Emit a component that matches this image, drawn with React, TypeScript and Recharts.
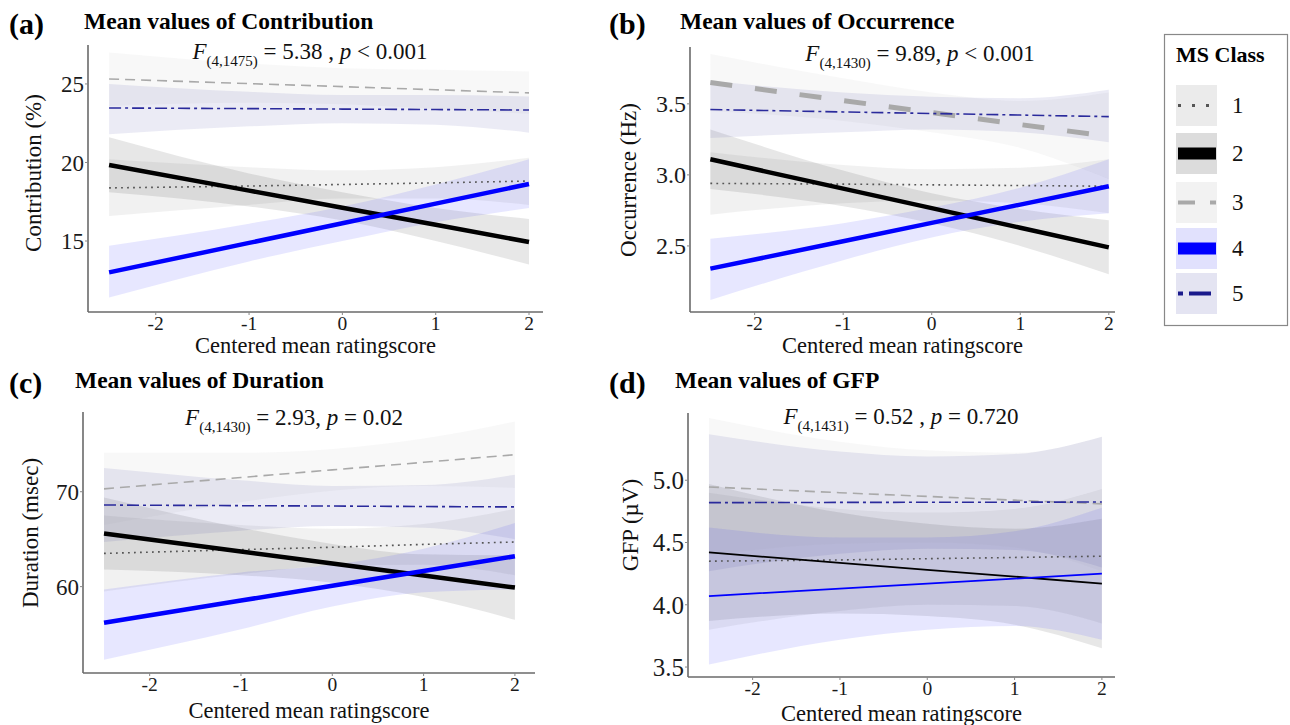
import React from 'react';
import { ComposedChart, Area, Line, XAxis, YAxis } from 'recharts';

// ---------------- data ----------------
const X_VALUES = [-2.5, -1, 0, 1, 2];
const X_TICKS = [-2, -1, 0, 1, 2];
const MS_CLASSES = ['1', '2', '3', '4', '5'];

// each entry: [lower CI, fitted mean, upper CI] at X_VALUES
// (a) Contribution (%)
const contribution1 = [[16.6, 18.38, 20.2], [17.3, 18.5, 19.7], [17.7, 18.6, 19.5], [17.7, 18.7, 19.7], [17.3, 18.82, 20.3]];
const contribution2 = [[18.1, 19.84, 21.6], [17.2, 18.21, 19.3], [16.3, 17.12, 18.1], [15.0, 16.03, 17.1], [13.5, 14.94, 16.4]];
const contribution3 = [[23.6, 25.32, 27.0], [23.8, 25.02, 26.3], [23.7, 24.83, 26.0], [23.4, 24.63, 25.9], [23.1, 24.43, 25.8]];
const contribution4 = [[11.4, 13.0, 14.7], [13.7, 14.88, 16.1], [15.0, 16.13, 17.2], [16.2, 17.38, 18.6], [17.1, 18.63, 20.2]];
const contribution5 = [[21.8, 23.47, 25.0], [22.3, 23.43, 24.5], [22.5, 23.4, 24.3], [22.4, 23.37, 24.3], [21.9, 23.34, 24.2]];
const contributionTicks = [15, 20, 25];

// (b) Occurrence (Hz)
const occurrence1 = [[2.72, 2.94, 3.16], [2.8, 2.935, 3.07], [2.82, 2.93, 3.04], [2.8, 2.925, 3.05], [2.73, 2.92, 3.11]];
const occurrence2 = [[2.9, 3.11, 3.32], [2.78, 2.903, 3.03], [2.66, 2.766, 2.87], [2.5, 2.628, 2.76], [2.3, 2.49, 2.68]];
const occurrence3 = [[3.45, 3.65, 3.85], [3.38, 3.523, 3.68], [3.3, 3.439, 3.58], [3.19, 3.354, 3.52], [2.97, 3.27, 3.58]];
const occurrence4 = [[2.12, 2.34, 2.55], [2.4, 2.533, 2.66], [2.56, 2.662, 2.77], [2.67, 2.791, 2.91], [2.73, 2.92, 3.11]];
const occurrence5 = [[3.26, 3.46, 3.66], [3.3, 3.443, 3.58], [3.32, 3.432, 3.55], [3.3, 3.421, 3.54], [3.23, 3.41, 3.6]];
const occurrenceTicks = [2.5, 3.0, 3.5];

// (c) Duration (msec)
const duration1 = [[59.5, 63.5, 67.5], [61.3, 63.9, 66.5], [62.2, 64.15, 66.1], [62.3, 64.45, 66.6], [61.2, 64.7, 68.2]];
const duration2 = [[61.8, 65.6, 69.4], [61.2, 63.7, 66.2], [60.4, 62.43, 64.5], [58.9, 61.17, 63.4], [56.5, 59.9, 63.3]];
const duration3 = [[66.5, 70.3, 74.1], [68.9, 71.5, 74.1], [70.1, 72.3, 74.5], [70.6, 73.1, 75.6], [70.4, 73.9, 77.4]];
const duration4 = [[52.3, 56.2, 59.7], [55.5, 58.53, 61.5], [57.9, 60.09, 62.3], [59.4, 61.64, 64.0], [59.7, 63.2, 66.7]];
const duration5 = [[64.7, 68.6, 72.5], [65.9, 68.53, 71.2], [66.4, 68.49, 70.6], [66.2, 68.44, 70.7], [65.0, 68.4, 71.8]];
const durationTicks = [60, 70];

// (d) GFP (µV)
const gfp1 = [[3.8, 4.35, 4.9], [3.95, 4.36, 4.77], [4.0, 4.37, 4.74], [3.99, 4.38, 4.77], [3.85, 4.39, 4.93]];
const gfp2 = [[3.87, 4.42, 4.97], [3.93, 4.337, 4.74], [3.91, 4.281, 4.65], [3.84, 4.226, 4.61], [3.65, 4.17, 4.69]];
const gfp3 = [[4.4, 4.946, 5.5], [4.49, 4.9, 5.31], [4.5, 4.87, 5.24], [4.46, 4.84, 5.22], [4.27, 4.81, 5.35]];
const gfp4 = [[3.52, 4.07, 4.62], [3.72, 4.13, 4.54], [3.8, 4.17, 4.54], [3.83, 4.21, 4.59], [3.72, 4.25, 4.78]];
const gfp5 = [[4.27, 4.82, 5.37], [4.41, 4.822, 5.23], [4.45, 4.823, 5.19], [4.44, 4.824, 5.21], [4.3, 4.825, 5.35]];
const gfpTicks = [3.5, 4.0, 4.5, 5.0];

// ---------------- styles ----------------
const SERIF = '"Liberation Serif", "Times New Roman", Times, serif';
const LINE_COLORS = ['#555555', '#000000', '#a9a9a9', '#0000ff', '#2a2a9c'];
const BAND_COLORS = ['#7a7a7a', '#3a3a3a', '#9a9a9a', '#3a3aff', '#3a3a9a'];
const BAND_OPACITY = [0.1, 0.12, 0.07, 0.12, 0.1];
const LEGEND_KEY_BG = ['#ebebeb', '#dcdcdc', '#f2f2f2', '#e1e1fd', '#e4e4f2'];

type PanelCfg = {
  letter: string;
  title: string;
  fSub: string;
  fRest: string;
  pRest: string;
  yLabel: string;
  series: number[][][];
  yTicks: number[];
  yDigits: number;
  left: number;
  top: number;
  width: number;
  height: number;
  margin: { top: number; right: number; bottom: number; left: number };
  yWidth: number;
  xHeight: number;
  xDomain: [number, number];
  yDomain: [number, number];
  yLabelX: number;
  yLabelY: number;
  xLabelDy: number;
  thick: number;
  dash3: string;
  w3: number;
  yTickSize: number;
  titleTop: number;
  letterLeft: number;
  titleLeft: number;
  fCenter: number;
  fTop: number;
};

const panels: PanelCfg[] = [
  {
    letter: '(a)', title: 'Mean values of Contribution', fSub: '(4,1475)', fRest: ' = 5.38 , ', pRest: ' < 0.001',
    yLabel: 'Contribution (%)',
    series: [contribution1, contribution2, contribution3, contribution4, contribution5],
    yTicks: contributionTicks, yDigits: 0,
    left: 0, top: 0, width: 560, height: 360,
    margin: { top: 45, right: 17, bottom: 8, left: 28 }, yWidth: 60, xHeight: 40,
    xDomain: [-2.726, 2.15], yDomain: [10.48, 27.48],
    yLabelX: 33, yLabelY: 173, xLabelDy: 33, thick: 4.5, dash3: '10 6', w3: 1.6, yTickSize: 23,
    titleTop: 0, letterLeft: 9, titleLeft: 84, fCenter: 310, fTop: 40,
  },
  {
    letter: '(b)', title: 'Mean values of Occurrence', fSub: '(4,1430)', fRest: ' = 9.89, ', pRest: ' < 0.001',
    yLabel: 'Occurrence (Hz)',
    series: [occurrence1, occurrence2, occurrence3, occurrence4, occurrence5],
    yTicks: occurrenceTicks, yDigits: 1,
    left: 600, top: 0, width: 530, height: 360,
    margin: { top: 47, right: 15, bottom: 8, left: 30 }, yWidth: 60, xHeight: 40,
    xDomain: [-2.73, 2.07], yDomain: [2.035, 3.9],
    yLabelX: 28, yLabelY: 180, xLabelDy: 33, thick: 4.5, dash3: '22 23', w3: 5, yTickSize: 24,
    titleTop: 0, letterLeft: 9, titleLeft: 80, fCenter: 320, fTop: 42,
  },
  {
    letter: '(c)', title: 'Mean values of Duration', fSub: '(4,1430)', fRest: ' = 2.93, ', pRest: ' = 0.02',
    yLabel: 'Duration (msec)',
    series: [duration1, duration2, duration3, duration4, duration5],
    yTicks: durationTicks, yDigits: 0,
    left: 0, top: 360, width: 560, height: 365,
    margin: { top: 52, right: 25, bottom: 12, left: 28 }, yWidth: 55, xHeight: 40,
    xDomain: [-2.73, 2.22], yDomain: [50.9, 78.4],
    yLabelX: 30.5, yLabelY: 173, xLabelDy: 37, thick: 4.5, dash3: '10 6', w3: 1.6, yTickSize: 23,
    titleTop: 359, letterLeft: 9, titleLeft: 75, fCenter: 294, fTop: 46,
  },
  {
    letter: '(d)', title: 'Mean values of GFP', fSub: '(4,1431)', fRest: ' = 0.52 , ', pRest: ' = 0.720',
    yLabel: 'GFP (\u00b5V)',
    series: [gfp1, gfp2, gfp3, gfp4, gfp5],
    yTicks: gfpTicks, yDigits: 1,
    left: 600, top: 360, width: 530, height: 365,
    margin: { top: 53, right: 15, bottom: 8, left: 28 }, yWidth: 60, xHeight: 40,
    xDomain: [-2.74, 2.15], yDomain: [3.42, 5.54],
    yLabelX: 30.5, yLabelY: 165, xLabelDy: 36, thick: 1.8, dash3: '10 6', w3: 1.6, yTickSize: 25,
    titleTop: 359, letterLeft: 9, titleLeft: 75, fCenter: 301, fTop: 45,
  },
];

function Panel({ cfg }: { cfg: PanelCfg }) {
  const rows = X_VALUES.map((x, i) => {
    const r: any = { x };
    cfg.series.forEach((s, k) => {
      r['m' + k] = s[i][1];
      r['b' + k] = [s[i][0], s[i][2]];
    });
    return r;
  });
  const plotLeft = cfg.margin.left + cfg.yWidth;
  const plotRight = cfg.width - cfg.margin.right;
  const plotBottom = cfg.height - cfg.margin.bottom - cfg.xHeight;

  const widths = [1.6, cfg.thick, cfg.w3, cfg.thick, 1.6];
  const dashes = ['1.8 4.2', undefined, cfg.dash3, undefined, '12 4 3 4'];

  const yLabelContent = () => (
    <text
      x={cfg.yLabelX}
      y={cfg.yLabelY}
      transform={`rotate(-90 ${cfg.yLabelX} ${cfg.yLabelY})`}
      textAnchor="middle"
      dominantBaseline="central"
      fontFamily={SERIF}
      fontSize={23}
      fill="#111"
    >
      {cfg.yLabel}
    </text>
  );
  const xLabelContent = () => (
    <text
      x={(plotLeft + plotRight) / 2}
      y={plotBottom + cfg.xLabelDy}
      textAnchor="middle"
      dominantBaseline="central"
      fontFamily={SERIF}
      fontSize={22.5}
      fill="#111"
    >
      Centered mean ratingscore
    </text>
  );

  return (
    <div style={{ position: 'absolute', left: cfg.left, top: cfg.top, width: cfg.width, height: cfg.height }}>
      <ComposedChart width={cfg.width} height={cfg.height} data={rows} margin={cfg.margin}>
        <XAxis
          type="number"
          dataKey="x"
          domain={cfg.xDomain}
          ticks={X_TICKS}
          allowDataOverflow
          height={cfg.xHeight}
          axisLine={{ stroke: '#6a6a6a', strokeWidth: 1.6 }}
          tickLine={{ stroke: '#888', strokeWidth: 1 }}
          tickSize={3}
          tickMargin={1}
          tick={{ fill: '#1a1a1a', fontSize: 19.5, fontFamily: SERIF }}
          label={{ content: xLabelContent }}
        />
        <YAxis
          type="number"
          domain={cfg.yDomain}
          ticks={cfg.yTicks}
          allowDataOverflow
          width={cfg.yWidth}
          axisLine={{ stroke: '#6a6a6a', strokeWidth: 1.6 }}
          tickLine={{ stroke: '#888', strokeWidth: 1 }}
          tickSize={3}
          tickMargin={1}
          tickFormatter={(v: number) => v.toFixed(cfg.yDigits)}
          tick={{ fill: '#1a1a1a', fontSize: cfg.yTickSize, fontFamily: SERIF }}
          label={{ content: yLabelContent }}
        />
        {MS_CLASSES.map((c, k) => (
          <Area
            key={'band' + c}
            dataKey={'b' + k}
            type="monotone"
            stroke="none"
            fill={BAND_COLORS[k]}
            fillOpacity={BAND_OPACITY[k]}
            isAnimationActive={false}
            activeDot={false}
            dot={false}
          />
        ))}
        {MS_CLASSES.map((c, k) => (
          <Line
            key={'line' + c}
            dataKey={'m' + k}
            type="linear"
            stroke={LINE_COLORS[k]}
            strokeWidth={widths[k]}
            strokeDasharray={dashes[k]}
            dot={false}
            activeDot={false}
            isAnimationActive={false}
          />
        ))}
      </ComposedChart>
    </div>
  );
}

function PanelText({ cfg }: { cfg: PanelCfg }) {
  const baseLeft = cfg.left;
  return (
    <>
      <div style={{ position: 'absolute', left: baseLeft + cfg.letterLeft, top: cfg.titleTop + 9, fontFamily: SERIF, fontWeight: 'bold', fontSize: 30, lineHeight: 1, color: '#000' }}>
        {cfg.letter}
      </div>
      <div style={{ position: 'absolute', left: baseLeft + cfg.titleLeft, top: cfg.titleTop + 10, fontFamily: SERIF, fontWeight: 'bold', fontSize: 23.5, lineHeight: 1, color: '#000', whiteSpace: 'nowrap' }}>
        {cfg.title}
      </div>
      <div style={{ position: 'absolute', left: baseLeft + cfg.fCenter, top: cfg.top + cfg.fTop, transform: 'translateX(-50%)', fontFamily: SERIF, fontSize: 23, lineHeight: 1, color: '#111', whiteSpace: 'nowrap' }}>
        <i>F</i>
        <span style={{ fontSize: 15, position: 'relative', top: 7 }}>{cfg.fSub}</span>
        {cfg.fRest}
        <i>p</i>
        {cfg.pRest}
      </div>
    </>
  );
}

function LegendBox() {
  const rowTop = [85, 133, 182, 228, 273];
  const rowH = 41;
  const keyDash = ['3 11', undefined, '17 15', undefined, '5 6 22 6'];
  const keyW = [3, 12, 4, 12, 4];
  const keyColor = ['#555555', '#000000', '#a9a9a9', '#0000ff', '#1a1a8c'];
  return (
    <svg style={{ position: 'absolute', left: 1160, top: 30 }} width={130} height={300}>
      <rect x={4.5} y={4.5} width={123} height={291} fill="#fff" stroke="#888" strokeWidth={1.2} />
      <text x={16} y={32} fontFamily={SERIF} fontWeight="bold" fontSize={22} fill="#000">
        MS Class
      </text>
      {MS_CLASSES.map((c, k) => {
        const y0 = rowTop[k] - 30;
        const cy = y0 + rowH / 2;
        return (
          <g key={c}>
            <rect x={16} y={y0} width={41} height={rowH} fill={LEGEND_KEY_BG[k]} />
            <line x1={18} x2={56} y1={cy} y2={cy} stroke={keyColor[k]} strokeWidth={keyW[k]} strokeDasharray={keyDash[k]} />
            <text x={72} y={cy} dominantBaseline="central" fontFamily={SERIF} fontSize={23} fill="#111">
              {c}
            </text>
          </g>
        );
      })}
    </svg>
  );
}

export default function App() {
  return (
    <div style={{ position: 'absolute', left: 0, top: 0, width: 1290, height: 725, background: '#fff', overflow: 'hidden' }}>
      {panels.map((p) => (
        <Panel key={p.letter} cfg={p} />
      ))}
      {panels.map((p) => (
        <PanelText key={'t' + p.letter} cfg={p} />
      ))}
      <LegendBox />
    </div>
  );
}
